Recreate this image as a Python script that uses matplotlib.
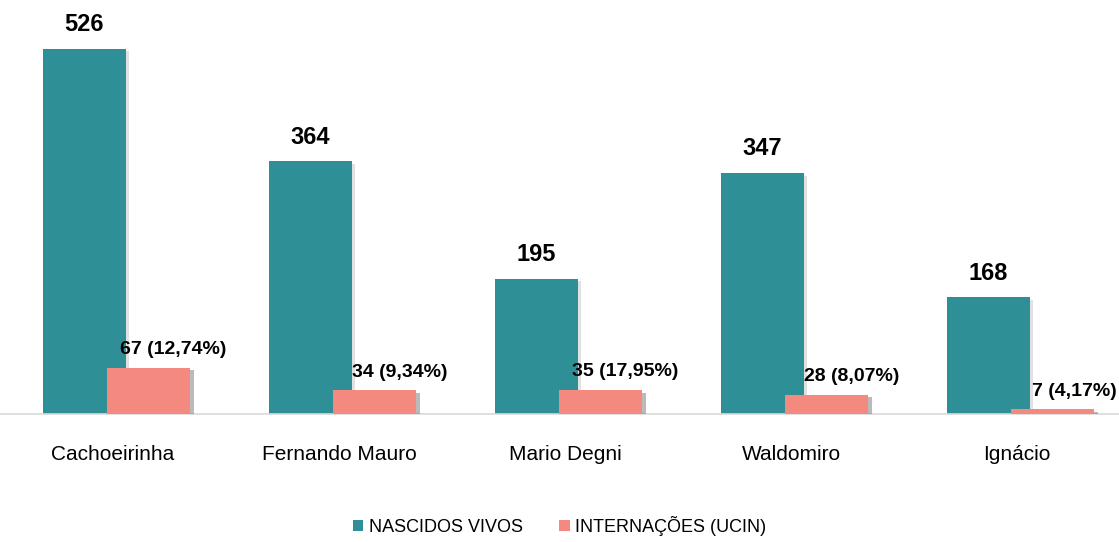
import matplotlib
matplotlib.use("Agg")
import matplotlib.pyplot as plt
import matplotlib.patheffects as pe
from matplotlib.patches import Patch
import numpy as np
from matplotlib.font_manager import fontManager

categories = ["Cachoeirinha", "Fernando Mauro", "Mario Degni", "Waldomiro", "Ignácio"]
nascidos = [526, 364, 195, 347, 168]
internacoes = [67, 34, 35, 28, 7]
intern_labels = ["67 (12,74%)", "34 (9,34%)", "35 (17,95%)", "28 (8,07%)", "7 (4,17%)"]
series_names = ["NASCIDOS VIVOS", "INTERNAÇÕES (UCIN)"]

names = {f.name for f in fontManager.ttflist}
fam = ["Liberation Sans Narrow", "Liberation Sans", "DejaVu Sans"]
fam = [f for f in fam if f in names] or ["DejaVu Sans"]
plt.rcParams['font.family'] = fam

teal = "#2E8F97"
pink = "#F3897F"

fig = plt.figure(figsize=(11.19, 5.42), dpi=100)
ax = fig.add_axes([0.0, 0.236, 1.0, 0.764])
x = np.arange(len(categories))
w = 0.367
shadow_teal = [pe.SimplePatchShadow(offset=(2, -2), shadow_rgbFace="#888888", alpha=0.25), pe.Normal()]
shadow_pink = [pe.SimplePatchShadow(offset=(3, -2), shadow_rgbFace="#666666", alpha=0.45), pe.Normal()]

b1 = ax.bar(x - 0.127, nascidos, w, color=teal, zorder=2)
b2 = ax.bar(x + 0.157, internacoes, w, color=pink, zorder=3)
for b in b1:
    b.set_path_effects(shadow_teal)
for b in b2:
    b.set_path_effects(shadow_pink)

for xi, v in zip(x, nascidos):
    ax.annotate(str(v), (xi - 0.127, v), xytext=(0, 9), textcoords="offset points",
                ha="center", va="bottom", fontsize=17, fontweight="bold")
pink_texts = []
for xi, v, lab in zip(x, internacoes, intern_labels):
    t = ax.annotate(lab, (xi + 0.157 + 0.11, v), xytext=(0, 7), textcoords="offset points",
                    ha="center", va="bottom", fontsize=14, fontweight="bold")
    pink_texts.append(t)

ax.set_xlim(-0.5, 4.45)
ax.set_ylim(0, 596)
ax.set_xticks(x)
ax.set_xticklabels(categories, fontsize=15)
ax.tick_params(axis="x", length=0, pad=22)
ax.set_yticks([])
for s in ["top", "right", "left"]:
    ax.spines[s].set_visible(False)
ax.spines["bottom"].set_color("#D9D9D9")
ax.spines["bottom"].set_linewidth(1.2)

handles = [Patch(facecolor=teal), Patch(facecolor=pink)]
fig.legend(handles=handles, labels=series_names, loc="center", bbox_to_anchor=(0.5, 0.03),
           ncol=2, frameon=False, fontsize=13, handlelength=0.6, handleheight=0.6,
           handletextpad=0.3, columnspacing=2.0)

# keep labels inside the figure
fig.canvas.draw()
r = fig.canvas.get_renderer()
W = fig.bbox.width
for t in pink_texts:
    bb = t.get_window_extent(r)
    if bb.x1 > W - 2:
        t.set_horizontalalignment("right")
        t.xyann = (0, 7)
        xr = ax.transData.inverted().transform((W - 2, 0))[0]
        t.xy = (xr, t.xy[1])

fig.savefig("out.png", dpi=100)
